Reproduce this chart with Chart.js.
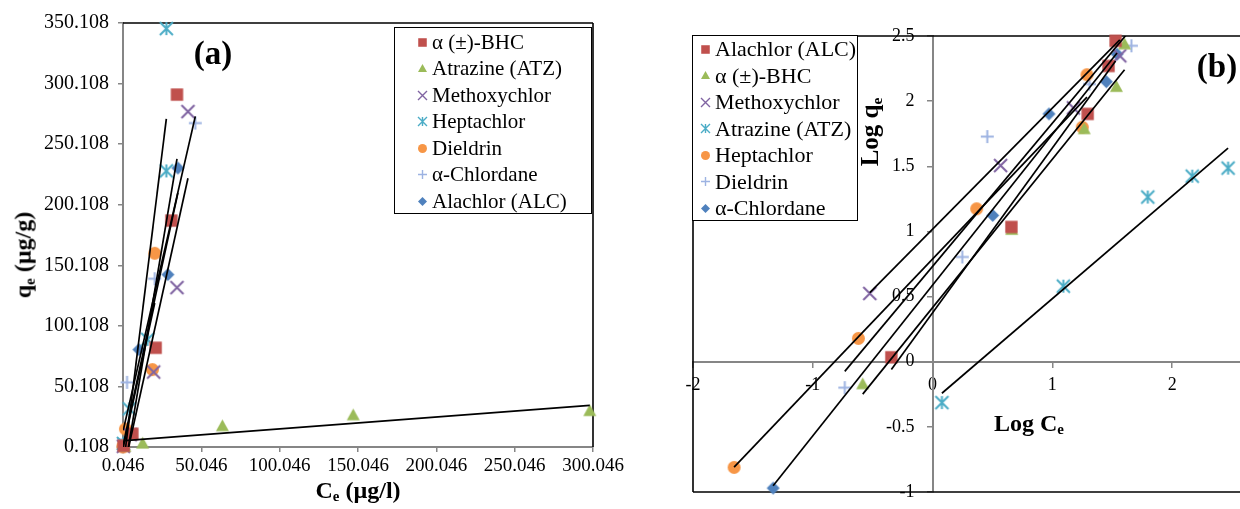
<!DOCTYPE html>
<html>
<head>
<meta charset="utf-8">
<script src="https://cdn.jsdelivr.net/npm/chart.js@4.4.1/dist/chart.umd.min.js"></script>
<style>
  html, body { margin: 0; padding: 0; background: #fff; overflow: hidden; }
  body { width: 1240px; height: 509px; position: relative; font-family: "Times New Roman", "Liberation Serif", serif; color: #000; }
  canvas.chart { position: absolute; top: 0; }
  #chartA { left: 0; }
  #chartB { left: 640px; }
  .title { position: absolute; font-weight: bold; white-space: nowrap; transform: translate(-50%, -50%); }
  .rot { transform: translate(-50%, -50%) rotate(-90deg); }
  .title sub { font-size: 62%; vertical-align: -0.25em; }
  .legend { position: absolute; border: 1.5px solid #000; background: #fff; box-sizing: border-box; }
  .legend .item { display: flex; align-items: center; white-space: nowrap; }
  .legend canvas { margin-right: 3px; }
</style>
</head>
<body>
<canvas id="chartA" class="chart" width="640" height="509"></canvas>
<canvas id="chartB" class="chart" width="608" height="509"></canvas>

<div class="legend" id="legendA" style="left:394px;top:27px;width:198px;height:187px;padding:1px 0 0 21px;font-size:21px;"></div>
<div class="legend" id="legendB" style="left:692px;top:35px;width:166px;height:186px;padding:0 0 0 6px;font-size:22px;"></div>

<div class="title rot" style="left:24px;top:255px;font-size:24px;">q<sub>e</sub> (µg/g)</div>
<div class="title" style="left:358px;top:491px;font-size:24px;">C<sub>e</sub> (µg/l)</div>
<div class="title rot" style="left:871px;top:132px;font-size:25px;">Log q<sub>e</sub></div>
<div class="title" style="left:1029px;top:424px;font-size:24px;">Log C<sub>e</sub></div>
<div class="title" style="left:213px;top:53px;font-size:33px;">(a)</div>
<div class="title" style="left:1217px;top:66px;font-size:33px;">(b)</div>

<script>
// ---- panel (a): Ce (µg/l) against qe (µg/g) ----
const namesA = ['α (±)-BHC', 'Atrazine (ATZ)', 'Methoxychlor', 'Heptachlor', 'Dieldrin', 'α-Chlordane', 'Alachlor (ALC)'];
const xTicksA = [0.046, 50.046, 100.046, 150.046, 200.046, 250.046, 300.046];
const yTicksA = [0.108, 50.108, 100.108, 150.108, 200.108, 250.108, 300.108, 350.108];

// [Ce, qe] pairs
const bhcA  = [[0.45, 1.1], [6.0, 11.0], [20.9, 82.0], [30.9, 187.0], [34.5, 291.0]];
const atzA  = [[1.2, 0.5], [12.6, 3.2], [63.5, 17.5], [147.0, 26.5], [298.0, 30.0]];
const metA  = [[0.26, 0.7], [4.6, 10.3], [19.6, 62.0], [34.5, 131.7], [41.5, 277.0]];
const heptA = [[0.3, 3.0], [4.0, 31.6], [15.8, 89.0], [27.7, 228.0], [27.7, 345.5]];
const dielA = [[0.02, 0.15], [0.24, 1.5], [1.6, 15.0], [18.8, 64.0], [20.3, 160.0]];
const chlA  = [[0.19, 0.6], [1.8, 6.4], [2.6, 53.5], [20.3, 139.0], [46.2, 267.5]];
const alcA  = [[0.05, 0.1], [4.0, 11.5], [10.2, 80.5], [28.7, 142.4], [35.1, 230.4]];

// trendline end points [Ce, qe]
const bhcFitA  = [[0.45, -23.0], [34.5, 238.0]];
const atzFitA  = [[1.2, 5.4], [298.0, 34.4]];
const metFitA  = [[0.26, -20.0], [41.5, 222.0]];
const heptFitA = [[0.3, -15.0], [27.7, 271.0]];
const dielFitA = [[0.02, -1.2], [20.3, 119.0]];
const chlFitA  = [[0.19, 13.8], [46.2, 273.0]];
const alcFitA  = [[0.05, 1.4], [35.1, 210.0]];

// ---- panel (b): Log Ce against Log qe ----
const namesB = ['Alachlor (ALC)', 'α (±)-BHC', 'Methoxychlor', 'Atrazine (ATZ)', 'Heptachlor', 'Dieldrin', 'α-Chlordane'];
const xTicksB = [-2, -1, 0, 1, 2];
const yTicksB = [-1, -0.5, 0, 0.5, 1, 1.5, 2, 2.5];

const alcB  = [[-0.344, 0.034], [0.658, 1.034], [1.295, 1.902], [1.469, 2.270], [1.528, 2.463]];
const bhcB  = [[-0.583, -0.171], [0.661, 1.014], [1.266, 1.787], [1.535, 2.111], [1.603, 2.438]];
const metB  = [[-0.524, 0.524], [0.568, 1.506], [1.176, 1.948], [1.563, 2.348]];
const atzB  = [[0.078, -0.314], [1.092, 0.580], [1.797, 1.264], [2.168, 1.424], [2.467, 1.486]];
const heptB = [[-1.657, -0.811], [-0.619, 0.179], [0.368, 1.174], [1.250, 1.800], [1.289, 2.203]];
const dielB = [[-0.733, -0.199], [0.248, 0.804], [0.457, 1.728], [1.310, 2.131], [1.660, 2.425]];
const chlB  = [[-1.331, -0.970], [0.502, 1.123], [0.972, 1.902], [1.451, 2.149], [1.540, 2.361]];

const alcFitB  = [[-0.344, -0.059], [1.528, 2.309]];
const bhcFitB  = [[-0.583, -0.249], [1.603, 2.241]];
const metFitB  = [[-0.524, 0.530], [1.563, 2.470]];
const atzFitB  = [[0.078, -0.242], [2.467, 1.639]];
const heptFitB = [[-1.657, -0.809], [1.289, 2.031]];
const dielFitB = [[-0.733, -0.074], [1.660, 2.556]];
const chlFitB  = [[-1.331, -0.952], [1.540, 2.370]];

// marker look, same order in both legends
const markerShapes = ['square', 'triangle', 'x', 'asterisk', 'circle', 'plus', 'diamond'];
const markerColors = ['#C0504D', '#9BBB59', '#8064A2', '#4BACC6', '#F79646', '#9DB3E2', '#4F81BD'];

const FONT = '"Times New Roman", "Liberation Serif", serif';

// draws one Excel style marker into a small canvas
function makeMarker(shape, color, size, lw) {
  const c = document.createElement('canvas');
  const s = Math.ceil(size) + 4;
  c.width = s; c.height = s;
  const g = c.getContext('2d');
  const m = s / 2, r = size / 2;
  g.fillStyle = color;
  g.strokeStyle = color;
  g.lineWidth = lw;
  g.beginPath();
  if (shape === 'square') {
    g.rect(m - r * 0.95, m - r * 0.95, r * 1.9, r * 1.9); g.fill();
  } else if (shape === 'triangle') {
    g.moveTo(m, m - r); g.lineTo(m + r, m + r * 0.8); g.lineTo(m - r, m + r * 0.8); g.closePath(); g.fill();
  } else if (shape === 'circle') {
    g.arc(m, m, r, 0, Math.PI * 2); g.fill();
  } else if (shape === 'diamond') {
    g.moveTo(m, m - r); g.lineTo(m + r, m); g.lineTo(m, m + r); g.lineTo(m - r, m); g.closePath(); g.fill();
  } else if (shape === 'x') {
    g.moveTo(m - r, m - r); g.lineTo(m + r, m + r); g.moveTo(m + r, m - r); g.lineTo(m - r, m + r); g.stroke();
  } else if (shape === 'asterisk') {
    g.moveTo(m - r, m - r); g.lineTo(m + r, m + r); g.moveTo(m + r, m - r); g.lineTo(m - r, m + r);
    g.moveTo(m, m - r); g.lineTo(m, m + r); g.stroke();
  } else if (shape === 'plus') {
    g.moveTo(m - r, m); g.lineTo(m + r, m); g.moveTo(m, m - r); g.lineTo(m, m + r); g.stroke();
  }
  return c;
}

const chartMarkers = markerShapes.map((s, i) => makeMarker(s, markerColors[i], 13, 2));

function buildLegend(id, names) {
  const box = document.getElementById(id);
  names.forEach((name, i) => {
    const row = document.createElement('div');
    row.className = 'item';
    row.style.height = '26.5px';
    row.appendChild(makeMarker(markerShapes[i], markerColors[i], 9, 1.4));
    const span = document.createElement('span');
    span.textContent = name;
    row.appendChild(span);
    box.appendChild(row);
  });
}

function buildDatasets(points, fits) {
  const sets = [];
  fits.forEach(f => sets.push({
    data: f.map(p => ({ x: p[0], y: p[1] })),
    showLine: true, borderColor: '#000', borderWidth: 1.7,
    pointRadius: 0, order: 0
  }));
  points.forEach((pts, i) => sets.push({
    data: pts.map(p => ({ x: p[0], y: p[1] })),
    showLine: false, pointStyle: chartMarkers[i], pointRadius: 6,
    clip: false, order: 1
  }));
  return sets;
}

// black plot-area border lines
function frame(sides) {
  return {
    id: 'frame',
    beforeDatasetsDraw(chart) {
      const { ctx, chartArea: a } = chart;
      ctx.save();
      ctx.strokeStyle = '#000';
      ctx.lineWidth = 1.6;
      ctx.beginPath();
      if (sides.includes('top')) { ctx.moveTo(a.left, a.top); ctx.lineTo(a.right, a.top); }
      if (sides.includes('right')) { ctx.moveTo(a.right, a.top); ctx.lineTo(a.right, a.bottom); }
      if (sides.includes('left')) { ctx.moveTo(a.left, a.top); ctx.lineTo(a.left, a.bottom); }
      if (sides.includes('bottom')) { ctx.moveTo(a.left, a.bottom); ctx.lineTo(a.right, a.bottom); }
      ctx.stroke();
      ctx.restore();
    }
  };
}

const axisGrid = { drawOnChartArea: false, drawTicks: true, tickLength: 5, color: '#868686', lineWidth: 1.5 };
const axisBorder = { color: '#868686', width: 2 };

new Chart(document.getElementById('chartA'), {
  type: 'scatter',
  data: { datasets: buildDatasets(
    [bhcA, atzA, metA, heptA, dielA, chlA, alcA],
    [bhcFitA, atzFitA, metFitA, heptFitA, dielFitA, chlFitA, alcFitA]) },
  options: {
    responsive: false,
    animation: false,
    layout: { padding: { top: 23, right: 47, left: 0, bottom: 0 } },
    plugins: { legend: { display: false }, tooltip: { enabled: false } },
    scales: {
      x: {
        type: 'linear', position: 'bottom', min: 0.046, max: 300.046,
        afterBuildTicks: s => { s.ticks = xTicksA.map(v => ({ value: v })); },
        afterFit: s => { s.height = 62; },
        grid: axisGrid, border: axisBorder,
        ticks: { font: { family: FONT, size: 19 }, color: '#000', padding: 3, maxRotation: 0, autoSkip: false,
                 callback: v => v.toFixed(3) }
      },
      y: {
        type: 'linear', position: 'left', min: 0.108, max: 350.108,
        afterBuildTicks: s => { s.ticks = yTicksA.map(v => ({ value: v })); },
        afterFit: s => { s.width = 123; },
        grid: axisGrid, border: axisBorder,
        ticks: { font: { family: FONT, size: 20 }, color: '#000', padding: 9, autoSkip: false,
                 callback: v => v.toFixed(3) }
      }
    }
  },
  plugins: [frame(['top', 'right'])]
});

new Chart(document.getElementById('chartB'), {
  type: 'scatter',
  data: { datasets: buildDatasets(
    [alcB, bhcB, metB, atzB, heptB, dielB, chlB],
    [alcFitB, bhcFitB, metFitB, atzFitB, heptFitB, dielFitB, chlFitB]) },
  options: {
    responsive: false,
    animation: false,
    layout: { padding: { top: 36, right: 0, left: 53, bottom: 17 } },
    plugins: { legend: { display: false }, tooltip: { enabled: false } },
    scales: {
      x: {
        type: 'linear', position: { y: 0 }, min: -2, max: 2.575,
        afterBuildTicks: s => { s.ticks = xTicksB.map(v => ({ value: v })); },
        grid: axisGrid, border: axisBorder,
        ticks: { font: { family: FONT, size: 18 }, color: '#000', padding: 8, maxRotation: 0, autoSkip: false,
                 callback: v => String(v) }
      },
      y: {
        type: 'linear', position: { x: 0 }, min: -1, max: 2.5,
        afterBuildTicks: s => { s.ticks = yTicksB.map(v => ({ value: v })); },
        grid: axisGrid, border: axisBorder,
        ticks: { font: { family: FONT, size: 18 }, color: '#000', autoSkip: false,
                 callback: v => String(v) + '\u2002\u2002' }
      }
    }
  },
  plugins: [frame(['top', 'left', 'bottom'])]
});

buildLegend('legendA', namesA);
buildLegend('legendB', namesB);
</script>
</body>
</html>
